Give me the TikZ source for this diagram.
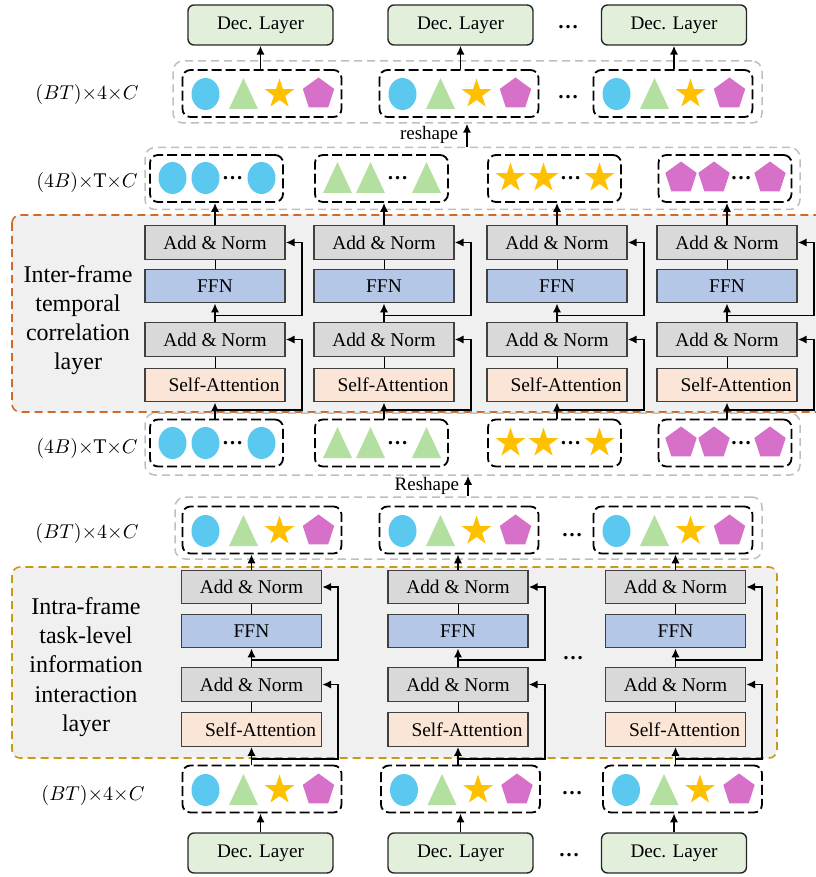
\documentclass[tikz,border=0pt]{standalone}
\usepackage{fontspec}
\setmainfont{Liberation Serif}
\usetikzlibrary{shapes.geometric,calc,arrows.meta}
\tikzset{>={Latex[length=4.5pt,width=4.2pt]}}
\definecolor{decgreen}{HTML}{E2EFDA}
\definecolor{normgray}{HTML}{D9D9D9}
\definecolor{ffnblue}{HTML}{B4C7E7}
\definecolor{attnpeach}{HTML}{FBE5D6}
\definecolor{ballblue}{HTML}{5BC8F0}
\definecolor{trigreen}{HTML}{B3E0A0}
\definecolor{stargold}{HTML}{FFC000}
\definecolor{pentpink}{HTML}{D670C8}
\definecolor{interorange}{HTML}{D06A28}
\definecolor{intragold}{HTML}{C89B14}
\definecolor{panelgray}{HTML}{F0F0F0}
\tikzset{
  declayer/.style = {draw=black!85, fill=decgreen, rounded corners=3pt, line width=0.7pt,
    minimum width=72.5pt, minimum height=20pt, font=\fontsize{9.6}{11}\selectfont},
  block/.style = {draw=black!75, line width=0.7pt, minimum width=70pt, minimum height=16.75pt,
    inner sep=0pt, font=\fontsize{9.7}{11}\selectfont},
  addnorm/.style = {block, fill=normgray},
  ffn/.style = {block, fill=ffnblue},
  attn/.style = {block, fill=attnpeach},
  tokens/.style = {draw, dash pattern=on 5pt off 2pt, line width=0.9pt, rounded corners=4pt,
    minimum height=23.5pt, inner sep=0pt},
  grpbox/.style = {draw=black!25, dash pattern=on 4pt off 2.5pt, line width=0.75pt,
    rounded corners=5pt, minimum height=31pt, inner sep=0pt},
  panel/.style = {fill=panelgray, dash pattern=on 4pt off 2.5pt, line width=0.8pt, rounded corners=4pt},
  dimlabel/.style = {font=\fontsize{10.4}{12}\selectfont},
  layerlabel/.style = {align=center, font=\fontsize{12}{14.6}\selectfont},
  dotlabel/.style = {font=\fontsize{10.5}{12}\selectfont\bfseries, inner sep=0pt},
  flow/.style = {->, line width=0.9pt},
  ball/.pic = {\fill[ballblue] (0,0) ellipse (7pt and 8pt);},
  tri/.pic = {\fill[trigreen] (-14.5,15) -- (0,-16) -- (14.5,15) -- cycle;},
  star5/.pic = {\node[star, star points=5, star point ratio=2.6, fill=stargold,
    minimum size=15.5pt, inner sep=0pt] {};},
  pent/.pic = {\node[regular polygon, regular polygon sides=5, fill=pentpink,
    minimum size=16.5pt, inner sep=0pt] {};},
}
% one frame: the four task tokens
\newcommand{\taskset}[2]{%
  \pic at ({#1-56.5},#2) {ball};
  \pic at ({#1-18.5},#2) {tri};
  \pic at ({#1+17.5},#2) {star5};
  \pic at ({#1+56.5},#2) {pent};
}
% one task: its tokens over time
\newcommand{\seqset}[4]{%
  \pic at ({#1-44},#2) {#3};
  \pic at ({#1-11},#2) {#3};
  \node[dotlabel] (#4) at ({#1+16},#2) {…};
  \pic at ({#1+45},#2) {#3};
}

\begin{document}
\begin{tikzpicture}[x=0.5pt, y=-0.5pt]
  \useasboundingbox (0,0) rectangle (815,877);
  % panels
  \draw[panel, draw=interorange] (12,215) rectangle (840,412);
  \draw[panel, draw=intragold] (12,567) rectangle (777,758);
  % grey groups
  \node[grpbox, minimum width=294.5pt] (gtop) at (467.5,92) {};
  \node[grpbox, minimum width=327.5pt] (gseqA) at (472.5,178.5) {};
  \node[grpbox, minimum width=327.5pt] (gseqB) at (472.5,444) {};
  \node[grpbox, minimum width=293.5pt] (gmid) at (468.5,528) {};
  % decoder layers
  \foreach \x/\n in {260.5/1, 460.5/2, 674/3} {
    \node[declayer] (topdec\n) at (\x,25) {Dec. Layer};
    \node[declayer] (botdec\n) at (\x,853) {Dec. Layer};
  }
  % (BT)x4xC rows
  \foreach \x/\n in {262/1, 459/2, 673/3} {
    \node[tokens, minimum width=79.5pt] (toptok\n) at (\x,93.5) {};
    \taskset{\x}{94}
    \node[tokens, minimum width=79.5pt] (midtok\n) at (\x,530) {};
    \taskset{\x}{531}
    \draw[flow] (toptok\n.north -| topdec\n.south) -- (topdec\n.south);
  }
  \foreach \x/\n in {262/1, 460.5/2, 682.5/3} {
    \node[tokens, minimum width=79.5pt] (bottok\n) at (\x,789) {};
    \taskset{\x}{790}
    \draw[flow] (botdec\n.north) -- (botdec\n.north |- bottok\n.south);
  }
  % inter-frame columns
  \foreach \c/\b/\n/\s in {215/216.5/1/ball, 384/381.5/2/tri, 557/554.5/3/star5, 727/725/4/pent} {
    \node[tokens, minimum width=66.5pt] (seqA\n) at (\b,178.5) {};
    \seqset{\b}{178}{\s}{dotsA\n}
    \node[tokens, minimum width=66.5pt] (seqB\n) at (\b,443) {};
    \seqset{\b}{443}{\s}{dotsB\n}
    \node[addnorm] (tempnormA\n) at (\c,242.5) {Add \& Norm};
    \node[ffn] (tempffn\n) at (\c,286) {FFN};
    \node[addnorm] (tempnormB\n) at (\c,339.5) {Add \& Norm};
    \node[attn] (tempattn\n) at (\c,385) {\hspace*{9pt}Self-Attention};
    \coordinate (tempin\n) at (seqB\n.north -| tempattn\n.south);
    \draw[flow] (tempnormA\n.north) -- (tempnormA\n.north |- seqA\n.south);
    \draw (tempffn\n.north) -- (tempnormA\n.south);
    \draw[flow] (tempnormB\n.north) -- (tempffn\n.south);
    \draw (tempattn\n.north) -- (tempnormB\n.south);
    \draw[flow] (tempin\n) -- (tempattn\n.south);
    % residuals
    \coordinate (tempresA\n) at ($(tempnormB\n.north)!0.35!(tempffn\n.south)$);
    \coordinate (tempresB\n) at ($(tempattn\n.south)!0.45!(tempin\n)$);
    \draw[flow] (tempresA\n) -| ([xshift=8pt]tempnormA\n.east) -- (tempnormA\n.east);
    \draw[flow] (tempresB\n) -| ([xshift=8pt]tempnormB\n.east) -- (tempnormB\n.east);
  }
  % intra-frame columns
  \foreach \c/\n in {251.5/1, 458/2, 675.5/3} {
    \node[addnorm] (tasknormA\n) at (\c,587) {Add \& Norm};
    \node[ffn] (taskffn\n) at (\c,631) {FFN};
    \node[addnorm] (tasknormB\n) at (\c,684.5) {Add \& Norm};
    \node[attn] (taskattn\n) at (\c,729.5) {\hspace*{9pt}Self-Attention};
    \coordinate (taskin\n) at (bottok\n.north -| taskattn\n.south);
    \draw[flow] (tasknormA\n.north) -- (tasknormA\n.north |- midtok\n.south);
    \draw (taskffn\n.north) -- (tasknormA\n.south);
    \draw[flow] (tasknormB\n.north) -- (taskffn\n.south);
    \draw (taskattn\n.north) -- (tasknormB\n.south);
    \draw[flow] (taskin\n) -- (taskattn\n.south);
    % residuals
    \coordinate (taskresA\n) at ($(tasknormB\n.north)!0.4!(taskffn\n.south)$);
    \coordinate (taskresB\n) at ($(taskattn\n.south)!0.7!(taskin\n)$);
    \draw[flow] (taskresA\n) -| ([xshift=8pt]tasknormA\n.east) -- (tasknormA\n.east);
    \draw[flow] (taskresB\n) -| ([xshift=8pt]tasknormB\n.east) -- (tasknormB\n.east);
  }
  % reshapes
  \coordinate (rsA) at (467,0);
  \coordinate (rsB) at (468,0);
  \draw[flow] (gseqA.north -| rsA) -- (gtop.south -| rsA)
    node[midway, left, inner sep=4pt, font=\fontsize{9.5}{11}\selectfont] (rslblA) {reshape};
  \draw[flow] (gmid.north -| rsB) -- (gseqB.south -| rsB)
    node[midway, left, inner sep=4pt, font=\fontsize{9.5}{11}\selectfont] (rslblB) {Reshape};
  % ellipses
  \node[dotlabel] (dotsTopDec) at (568,27) {…};
  \node[dotlabel] (dotsTopTok) at (568,97) {…};
  \node[dotlabel] (dotsMidTok) at (572,535) {…};
  \node[dotlabel] (dotsTask) at (573,658) {…};
  \node[dotlabel] (dotsBotTok) at (572,793) {…};
  \node[dotlabel] (dotsBotDec) at (569,855) {…};
  % labels
  \node[dimlabel] (dimA) at (87,95) {$(BT){\times}4{\times}C$};
  \node[dimlabel] (dimB) at (87,183) {$(4B){\times}\mathrm{T}{\times}C$};
  \node[dimlabel] (dimC) at (87,448) {$(4B){\times}\mathrm{T}{\times}C$};
  \node[dimlabel] (dimD) at (87,533) {$(BT){\times}4{\times}C$};
  \node[dimlabel] (dimE) at (93,795) {$(BT){\times}4{\times}C$};
  \node[layerlabel] (interlbl) at (78,320) {Inter-frame\\temporal\\correlation\\layer};
  \node[layerlabel] (intralbl) at (86,667) {Intra-frame\\task-level\\information\\interaction\\layer};
\end{tikzpicture}
\end{document}
